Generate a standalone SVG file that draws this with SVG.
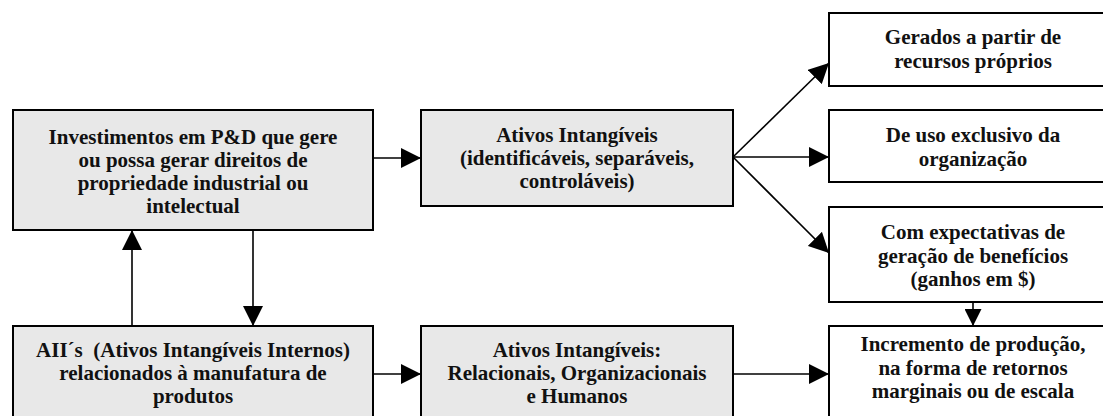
<svg xmlns="http://www.w3.org/2000/svg" width="1103" height="416" viewBox="0 0 1103 416">
  <style>
    .box { stroke: #000; stroke-width: 2; }
    .grey { fill: #e8e8e8; }
    .white { fill: #fff; }
    .lbl { font-family: "Liberation Serif", "Times New Roman", serif; font-weight: bold; font-size: 21px; fill: #111; text-anchor: middle; }
    .conn { stroke: #000; stroke-width: 1.6; fill: none; }
  </style>
  <defs>
    <marker id="head" viewBox="0 0 20 20" refX="20" refY="10" markerWidth="20" markerHeight="20" markerUnits="userSpaceOnUse" orient="auto">
      <path d="M0,0 L20,10 L0,20 Z" fill="#000"/>
    </marker>
    <marker id="headSmall" viewBox="0 0 20 20" refX="20" refY="10" markerWidth="17" markerHeight="17" markerUnits="userSpaceOnUse" orient="auto">
      <path d="M0,0 L20,10 L0,20 Z" fill="#000"/>
    </marker>
  </defs>
  <rect width="1103" height="416" fill="#fff"/>

  <!-- connectors -->
  <g id="connectors">
    <line class="conn" x1="373" y1="158" x2="421" y2="158" marker-end="url(#head)"/>
    <line class="conn" x1="733" y1="157" x2="829" y2="63" marker-end="url(#head)"/>
    <line class="conn" x1="733" y1="157" x2="829" y2="157" marker-end="url(#head)"/>
    <line class="conn" x1="733" y1="157" x2="829" y2="253" marker-end="url(#head)"/>
    <line class="conn" x1="132" y1="326" x2="132" y2="230" marker-end="url(#head)"/>
    <line class="conn" x1="253" y1="230" x2="253" y2="326" marker-end="url(#head)"/>
    <line class="conn" x1="373" y1="374" x2="421" y2="374" marker-end="url(#head)"/>
    <line class="conn" x1="733" y1="374" x2="829" y2="374" marker-end="url(#head)"/>
    <line class="conn" x1="973" y1="302" x2="973" y2="326" marker-end="url(#headSmall)"/>
  </g>

  <!-- R&D investment -->
  <g id="investimentos">
    <rect class="box grey" x="13" y="110" width="360" height="120"/>
    <text class="lbl" x="193" y="144">Investimentos em P&amp;D que gere</text>
    <text class="lbl" x="193" y="167">ou possa gerar direitos de</text>
    <text class="lbl" x="193" y="190">propriedade industrial ou</text>
    <text class="lbl" x="193" y="213">intelectual</text>
  </g>

  <!-- identifiable intangible assets -->
  <g id="ativos-identificaveis">
    <rect class="box grey" x="421" y="110" width="312" height="96"/>
    <text class="lbl" x="577" y="142">Ativos Intangíveis</text>
    <text class="lbl" x="577" y="165">(identificáveis, separáveis,</text>
    <text class="lbl" x="577" y="188">controláveis)</text>
  </g>

  <g id="gerados">
    <rect class="box white" x="829" y="13" width="290" height="73"/>
    <text class="lbl" x="973" y="44">Gerados a partir de</text>
    <text class="lbl" x="973" y="68">recursos próprios</text>
  </g>

  <g id="uso-exclusivo">
    <rect class="box white" x="829" y="110" width="290" height="72"/>
    <text class="lbl" x="973" y="142">De uso exclusivo da</text>
    <text class="lbl" x="973" y="166">organização</text>
  </g>

  <g id="expectativas">
    <rect class="box white" x="829" y="207" width="290" height="95"/>
    <text class="lbl" x="973" y="239">Com expectativas de</text>
    <text class="lbl" x="973" y="263">geração de benefícios</text>
    <text class="lbl" x="973" y="286">(ganhos em $)</text>
  </g>

  <g id="incremento">
    <rect class="box white" x="829" y="326" width="290" height="100"/>
    <text class="lbl" x="973" y="351">Incremento de produção,</text>
    <text class="lbl" x="973" y="375">na forma de retornos</text>
    <text class="lbl" x="973" y="398">marginais ou de escala</text>
  </g>

  <!-- internal intangible assets -->
  <g id="aii">
    <rect class="box grey" x="13" y="326" width="360" height="100"/>
    <text class="lbl" x="193" y="357" xml:space="preserve">AII´s  (Ativos Intangíveis Internos)</text>
    <text class="lbl" x="193" y="380">relacionados à manufatura de</text>
    <text class="lbl" x="193" y="403">produtos</text>
  </g>

  <g id="ativos-relacionais">
    <rect class="box grey" x="421" y="326" width="312" height="100"/>
    <text class="lbl" x="577" y="357">Ativos Intangíveis:</text>
    <text class="lbl" x="577" y="380">Relacionais, Organizacionais</text>
    <text class="lbl" x="577" y="403">e Humanos</text>
  </g>
</svg>
